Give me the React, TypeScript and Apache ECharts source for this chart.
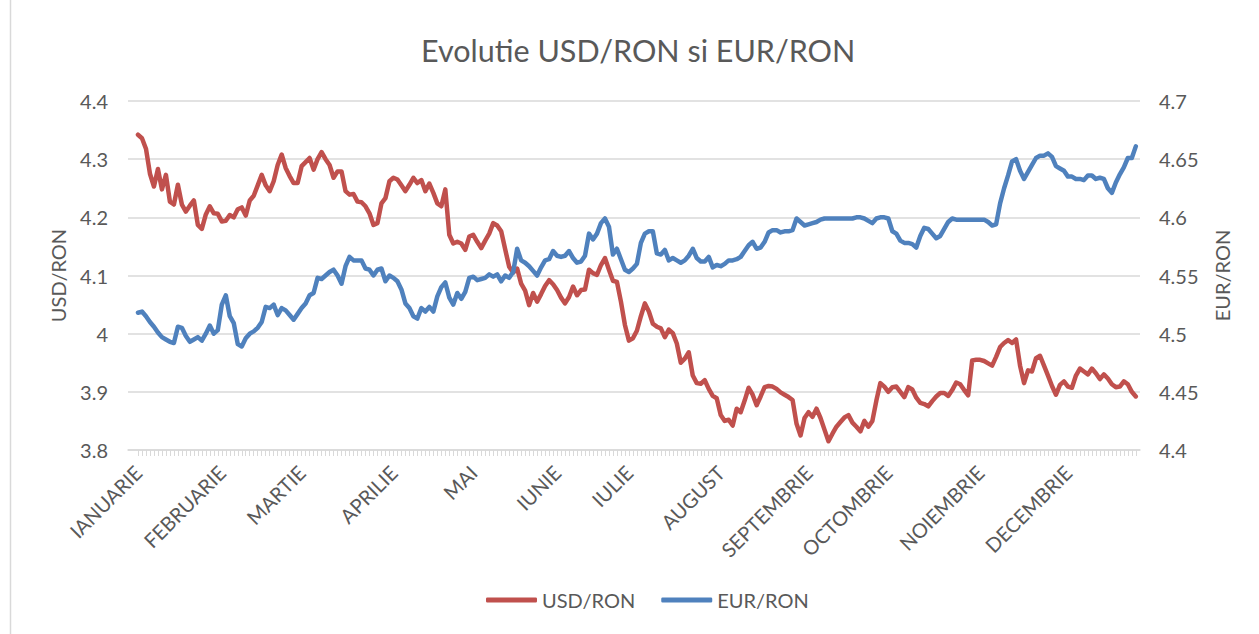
import React, { useEffect, useRef } from "react";
import * as echarts from "echarts";

const chartTitle = "Evolutie USD/RON si EUR/RON";
const monthNames = ["IANUARIE", "FEBRUARIE", "MARTIE", "APRILIE", "MAI", "IUNIE", "IULIE", "AUGUST", "SEPTEMBRIE", "OCTOMBRIE", "NOIEMBRIE", "DECEMBRIE"];
const daysPerMonth = [21, 20, 23, 20, 21, 18, 23, 22, 20, 23, 22, 18];

const usdRon = [
  4.342, 4.336, 4.318, 4.275, 4.253, 4.283, 4.248, 4.273, 4.227, 4.222, 4.256, 4.222, 4.21, 4.22, 4.229, 4.187, 4.18, 4.205, 4.219, 4.207, 4.206,
  4.193, 4.194, 4.204, 4.2, 4.214, 4.217, 4.203, 4.229, 4.237, 4.255, 4.273, 4.255, 4.245, 4.262, 4.29, 4.308, 4.285, 4.271, 4.259, 4.259,
  4.288, 4.295, 4.302, 4.282, 4.3, 4.312, 4.3, 4.29, 4.268, 4.279, 4.279, 4.245, 4.239, 4.24, 4.227, 4.226, 4.219, 4.207, 4.187, 4.19, 4.224, 4.233, 4.262,
  4.268, 4.265, 4.255, 4.245, 4.256, 4.268, 4.259, 4.264, 4.245, 4.258, 4.242, 4.224, 4.219, 4.248, 4.17, 4.155, 4.158, 4.155, 4.144, 4.167,
  4.17, 4.158, 4.147, 4.16, 4.172, 4.19, 4.186, 4.176, 4.145, 4.115, 4.105, 4.112, 4.086, 4.074, 4.049, 4.07, 4.055, 4.068, 4.082, 4.092, 4.085,
  4.075, 4.062, 4.052, 4.063, 4.081, 4.066, 4.075, 4.076, 4.11, 4.104, 4.101, 4.118, 4.13, 4.11, 4.091, 4.089, 4.055, 4.015,
  3.988, 3.992, 4.005, 4.03, 4.052, 4.038, 4.017, 4.012, 4.009, 3.994, 4.007, 4.001, 3.983, 3.95, 3.957, 3.968, 3.928, 3.915, 3.914, 3.92, 3.905, 3.893, 3.889,
  3.86, 3.85, 3.852, 3.842, 3.871, 3.865, 3.885, 3.907, 3.895, 3.877, 3.892, 3.908, 3.91, 3.909, 3.905, 3.899, 3.895, 3.891, 3.886, 3.845, 3.825, 3.855,
  3.865, 3.857, 3.871, 3.855, 3.835, 3.815, 3.828, 3.84, 3.848, 3.856, 3.86, 3.847, 3.84, 3.832, 3.85, 3.84, 3.85, 3.885, 3.915, 3.909,
  3.9, 3.908, 3.909, 3.9, 3.891, 3.908, 3.904, 3.89, 3.881, 3.879, 3.875, 3.884, 3.892, 3.898, 3.898, 3.893, 3.903, 3.916, 3.913, 3.903, 3.894, 3.954, 3.955,
  3.955, 3.953, 3.949, 3.945, 3.96, 3.977, 3.984, 3.989, 3.984, 3.99, 3.945, 3.915, 3.937, 3.935, 3.958, 3.962, 3.945, 3.928, 3.91, 3.895, 3.912, 3.918,
  3.909, 3.907, 3.928, 3.94, 3.935, 3.93, 3.94, 3.932, 3.922, 3.93, 3.923, 3.913, 3.908, 3.909, 3.918, 3.913, 3.9, 3.892,
];

const eurRon = [
  4.518, 4.519, 4.515, 4.51, 4.506, 4.501, 4.497, 4.495, 4.493, 4.492, 4.506, 4.505, 4.498, 4.493, 4.495, 4.497, 4.494, 4.5, 4.507, 4.5, 4.503,
  4.525, 4.533, 4.515, 4.509, 4.491, 4.489, 4.496, 4.5, 4.502, 4.505, 4.51, 4.523, 4.522, 4.525, 4.516, 4.522, 4.52, 4.516, 4.512, 4.517,
  4.522, 4.526, 4.533, 4.535, 4.548, 4.547, 4.55, 4.553, 4.555, 4.55, 4.543, 4.558, 4.566, 4.563, 4.563, 4.563, 4.556, 4.555, 4.55, 4.555, 4.556, 4.545, 4.55,
  4.548, 4.545, 4.538, 4.526, 4.522, 4.515, 4.513, 4.522, 4.519, 4.523, 4.519, 4.532, 4.54, 4.544, 4.531, 4.525, 4.535, 4.53, 4.536, 4.548,
  4.549, 4.546, 4.547, 4.548, 4.551, 4.549, 4.551, 4.545, 4.55, 4.548, 4.553, 4.573, 4.563, 4.561, 4.558, 4.554, 4.55, 4.557, 4.563, 4.564, 4.571,
  4.567, 4.566, 4.567, 4.571, 4.565, 4.561, 4.562, 4.567, 4.586, 4.581, 4.586, 4.595, 4.599, 4.592, 4.568, 4.573, 4.564, 4.555,
  4.553, 4.556, 4.56, 4.578, 4.586, 4.588, 4.588, 4.569, 4.568, 4.572, 4.563, 4.565, 4.563, 4.561, 4.563, 4.567, 4.573, 4.565, 4.562, 4.562, 4.566, 4.557, 4.559,
  4.558, 4.56, 4.563, 4.563, 4.564, 4.566, 4.571, 4.576, 4.579, 4.573, 4.574, 4.579, 4.587, 4.589, 4.589, 4.587, 4.588, 4.588, 4.589, 4.599, 4.596, 4.593,
  4.594, 4.595, 4.596, 4.598, 4.599, 4.599, 4.599, 4.599, 4.599, 4.599, 4.599, 4.599, 4.6, 4.6, 4.599, 4.597, 4.595, 4.599, 4.6, 4.6,
  4.599, 4.588, 4.586, 4.58, 4.578, 4.578, 4.577, 4.574, 4.584, 4.591, 4.59, 4.586, 4.582, 4.584, 4.59, 4.596, 4.599, 4.598, 4.598, 4.598, 4.598, 4.598, 4.598,
  4.598, 4.598, 4.596, 4.593, 4.594, 4.612, 4.625, 4.636, 4.648, 4.65, 4.64, 4.633, 4.639, 4.645, 4.651, 4.653, 4.653, 4.655, 4.652, 4.644, 4.642, 4.64,
  4.635, 4.635, 4.633, 4.633, 4.632, 4.636, 4.636, 4.633, 4.634, 4.633, 4.625, 4.621, 4.63, 4.637, 4.643, 4.651, 4.651, 4.661,
];

const usdTicks = { min: 3.8, max: 4.4, interval: 0.1 };
const eurTicks = { min: 4.4, max: 4.7, interval: 0.05 };

const FONT = "Lato, 'Open Sans', sans-serif";
const TEXT = "#595959";
const GRID = "#d9d9d9";

export default function App() {
  const ref = useRef<HTMLDivElement>(null);
  useEffect(() => {
    if (!ref.current) return;
    const chart = echarts.init(ref.current, null, { renderer: "svg" });

    const monthStarts: number[] = [];
    let acc = 0;
    daysPerMonth.forEach((n) => {
      monthStarts.push(acc);
      acc += n;
    });
    const n = usdRon.length;
    const allIdx = usdRon.map((_, i) => i);

    chart.setOption({
      animation: false,
      backgroundColor: "#ffffff",
      textStyle: { fontFamily: FONT },
      title: {
        text: chartTitle,
        left: 421,
        top: 34,
        padding: 0,
        textStyle: { fontFamily: FONT, fontSize: 30.5, fontWeight: "normal", color: TEXT },
      },
      legend: {
        left: 486,
        top: 590,
        padding: 0,
        itemGap: 26,
        itemWidth: 51,
        itemHeight: 5,
        icon: "roundRect",
        textStyle: { fontFamily: FONT, fontSize: 20, color: TEXT, padding: [0, 0, 0, 0] },
        data: ["USD/RON", "EUR/RON"],
      },
      grid: { left: 128, right: 119, top: 101, bottom: 184, containLabel: false },
      xAxis: {
        type: "value",
        min: -2.5,
        max: n + 0.05,
        splitLine: { show: false },
        axisLine: { show: true, lineStyle: { color: GRID, width: 1.5 } },
        axisTick: {
          show: true,
          customValues: allIdx,
          length: 6,
          inside: false,
          lineStyle: { color: GRID, width: 1 },
        },
        axisLabel: {
          customValues: monthStarts,
          rotate: 45,
          margin: 19,
          fontFamily: FONT,
          fontSize: 20,
          color: TEXT,
          formatter: (v: number) => {
            const k = monthStarts.indexOf(Math.round(v));
            return k >= 0 ? monthNames[k] : "";
          },
        },
      },
      yAxis: [
        {
          type: "value",
          ...usdTicks,
          name: "USD/RON",
          nameLocation: "middle",
          nameGap: 60,
          nameRotate: 90,
          nameTextStyle: { fontFamily: FONT, fontSize: 20, color: TEXT },
          axisLine: { show: false },
          axisTick: { show: false },
          axisLabel: { margin: 20, fontFamily: FONT, fontSize: 20, color: TEXT },
          splitLine: { show: true, lineStyle: { color: GRID, width: 1.5 } },
        },
        {
          type: "value",
          ...eurTicks,
          name: "EUR/RON",
          nameLocation: "middle",
          nameGap: 72,
          nameRotate: 90,
          nameTextStyle: { fontFamily: FONT, fontSize: 20, color: TEXT },
          axisLine: { show: false },
          axisTick: { show: false },
          axisLabel: {
            margin: 19,
            fontFamily: FONT,
            fontSize: 20,
            color: TEXT,
            formatter: (v: number) => String(Math.round(v * 100) / 100),
          },
          splitLine: { show: false },
        },
      ],
      series: [
        {
          name: "USD/RON",
          type: "line",
          yAxisIndex: 0,
          showSymbol: false,
          symbol: "none",
          color: "#C0504D",
          lineStyle: { color: "#C0504D", width: 4.5, cap: "round", join: "round" },
          data: usdRon.map((v, i) => [i, v]),
        },
        {
          name: "EUR/RON",
          type: "line",
          yAxisIndex: 1,
          showSymbol: false,
          symbol: "none",
          color: "#4F81BD",
          lineStyle: { color: "#4F81BD", width: 4.5, cap: "round", join: "round" },
          data: eurRon.map((v, i) => [i, v]),
        },
      ],
      graphic: [
        {
          type: "line",
          shape: { x1: 10.5, y1: 0, x2: 10.5, y2: 634 },
          style: { stroke: GRID, lineWidth: 1.5 },
          silent: true,
        },
      ],
    });

    return () => chart.dispose();
  }, []);

  return (
    <div
      ref={ref}
      style={{ position: "fixed", left: 0, top: 0, width: 1259, height: 634, background: "#fff" }}
    />
  );
}
